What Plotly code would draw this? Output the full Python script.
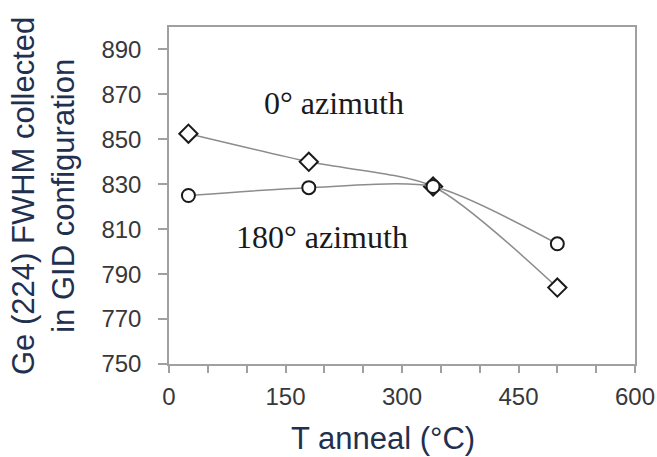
import plotly.graph_objects as go

t_anneal = [25, 180, 340, 500]
fwhm_0deg = [852.5, 840, 829, 784]
fwhm_180deg = [825, 828.5, 829, 803.5]

x_ticks = [0, 150, 300, 450, 600]
y_ticks = [750, 770, 790, 810, 830, 850, 870, 890]

W, H = 657, 457
L, R, T, B = 169, 22, 27, 93
pw = W - L - R
ph = H - T - B

fig = go.Figure()
fig.add_trace(go.Scatter(
    x=t_anneal, y=fwhm_0deg, mode="lines+markers",
    line=dict(color="#8c8c8c", width=1.5, shape="spline", smoothing=0.7),
    marker=dict(symbol="diamond", size=14, color="white", line=dict(color="#1a1a1a", width=2)),
    name="0° azimuth", showlegend=False,
))
fig.add_trace(go.Scatter(
    x=t_anneal, y=fwhm_180deg, mode="lines+markers",
    line=dict(color="#8c8c8c", width=1.5, shape="spline", smoothing=0.7),
    marker=dict(symbol="circle", size=13, color="white", line=dict(color="#1a1a1a", width=2)),
    name="180° azimuth", showlegend=False,
))

axis_font = dict(family="Liberation Sans, Arial", size=24, color="#383838")
fig.update_xaxes(
    range=[0, 600], tickvals=x_ticks, ticktext=[str(v) for v in x_ticks],
    showgrid=False, zeroline=False, automargin=False,
    showline=True, linecolor="#a0a0a0", linewidth=1.5, mirror=True,
    ticks="outside", ticklen=7, tickcolor="#a0a0a0", tickwidth=1.5,
    minor=dict(dtick=50, tick0=0, ticks="outside", ticklen=7, tickcolor="#a0a0a0", tickwidth=1.5, showgrid=False),
    tickfont=axis_font, ticklabelstandoff=3,
)
fig.update_yaxes(
    range=[750, 900], tickvals=y_ticks, ticktext=[str(v) for v in y_ticks],
    showgrid=False, zeroline=False, automargin=False,
    showline=True, linecolor="#a0a0a0", linewidth=1.5, mirror=True,
    ticks="outside", ticklen=9, tickcolor="#a0a0a0", tickwidth=1.5,
    tickfont=axis_font, ticklabelstandoff=12,
)

title_color = "#22304f"
serif = dict(family="Liberation Serif, Times New Roman", size=32, color="#1a1a1a")
fig.update_layout(
    width=W, height=H,
    margin=dict(l=L, r=R, t=T, b=B, autoexpand=False),
    paper_bgcolor="white", plot_bgcolor="white",
    annotations=[
        dict(text="0° azimuth", x=(334 - L) / pw, y=1 - (103 - T) / ph, xref="paper", yref="paper",
             showarrow=False, font=serif, xanchor="center", yanchor="middle"),
        dict(text="180° azimuth", x=(322 - L) / pw, y=1 - (237 - T) / ph, xref="paper", yref="paper",
             showarrow=False, font=serif, xanchor="center", yanchor="middle"),
        dict(text="T anneal (°C)", x=(383 - L) / pw, y=1 - (438 - T) / ph, xref="paper", yref="paper",
             showarrow=False, font=dict(family="Liberation Sans, Arial", size=31, color=title_color),
             xanchor="center", yanchor="middle"),
        dict(text="Ge (224) FWHM collected<br>in GID configuration", x=(43 - L) / pw, y=1 - (196 - T) / ph,
             xref="paper", yref="paper", textangle=-90,
             showarrow=False, font=dict(family="Liberation Sans, Arial", size=31, color=title_color),
             xanchor="center", yanchor="middle"),
    ],
)

fig.write_html("out.html")
